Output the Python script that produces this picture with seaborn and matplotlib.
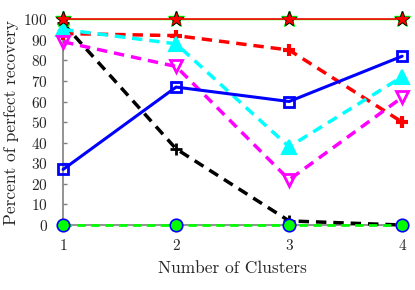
import matplotlib
matplotlib.use("Agg")
import matplotlib.pyplot as plt
import seaborn as sns
import pandas as pd

clusters = [1, 2, 3, 4]
perfect_a = [100, 100, 100, 100]
perfect_b = [100, 100, 100, 100]
perfect_c = [100, 100, 100, 100]
red_plus = [93, 92, 85, 50]
cyan_tri = [95, 88, 38, 72]
magenta_tri = [89, 77, 22, 62]
blue_sq = [27, 67, 60, 82]
black_plus = [98, 37, 2, 0]
green_zero = [0, 0, 0, 0]
yticks = [0, 10, 20, 30, 40, 50, 60, 70, 80, 90, 100]

sns.set_theme(style="white")
plt.rcParams['font.family'] = ['cmr10', 'DejaVu Serif']
plt.rcParams['axes.formatter.use_mathtext'] = True

fig = plt.figure(figsize=(4.15, 2.9), dpi=100)
ax = fig.add_axes([0.152, 0.224, 0.817, 0.710])

def draw(vals, color, ls, lw, marker, ms, mfc, mec, mew, z):
    df = pd.DataFrame({"x": clusters, "y": vals})
    sns.lineplot(data=df, x="x", y="y", ax=ax, color=color, linestyle=ls, lw=lw,
                 marker=marker, markersize=ms, markerfacecolor=mfc,
                 markeredgecolor=mec, markeredgewidth=mew, zorder=z, clip_on=False)

draw(black_plus, 'black', '--', 2.5, '+', 8, 'black', 'black', 2, 3)
draw(blue_sq, 'blue', '-', 2.2, 's', 7, 'none', 'blue', 2, 4)
draw(red_plus, 'red', '--', 2.5, '+', 9, 'red', 'red', 3, 3)
draw(cyan_tri, 'cyan', '--', 2.5, '^', 10, 'cyan', 'cyan', 1.5, 3)
draw(magenta_tri, 'magenta', '--', 2.5, 'v', 9, 'none', 'magenta', 2, 3)
draw(green_zero, 'lime', '--', 2.0, 'o', 9, 'lime', 'blue', 1.2, 5)
draw(perfect_a, 'lime', '-', 1.0, '*', 12, 'lime', 'lime', 1, 5)
draw(perfect_b, 'black', '-', 0.0, '*', 11, 'black', 'black', 1, 6)
draw(perfect_c, 'red', '-', 1.2, '*', 9, 'red', 'red', 0.8, 7)
for line in ax.get_lines():
    if line.get_linestyle() == '--':
        line.set_dashes((3, 2))

ax.set_xlim(1, 4)
ax.set_ylim(0, 100)
ax.set_xticks(clusters)
ax.set_yticks(yticks)
ax.set_xlabel("Number of Clusters", fontsize=12.5, labelpad=6)
ax.set_ylabel("Percent of perfect recovery", fontsize=12.5, labelpad=3)
ax.tick_params(axis='y', which='major', left=True, labelsize=11, direction='in',
               length=3, width=1, color='gray', pad=11)
ax.tick_params(axis='x', labelsize=11, length=0, pad=9)
for s in ['top', 'right']:
    ax.spines[s].set_visible(False)
for s in ['left', 'bottom']:
    ax.spines[s].set_color('gray')
    ax.spines[s].set_linewidth(1.2)
ax.grid(False)
if ax.get_legend():
    ax.get_legend().remove()

fig.savefig("out.png", dpi=100)
